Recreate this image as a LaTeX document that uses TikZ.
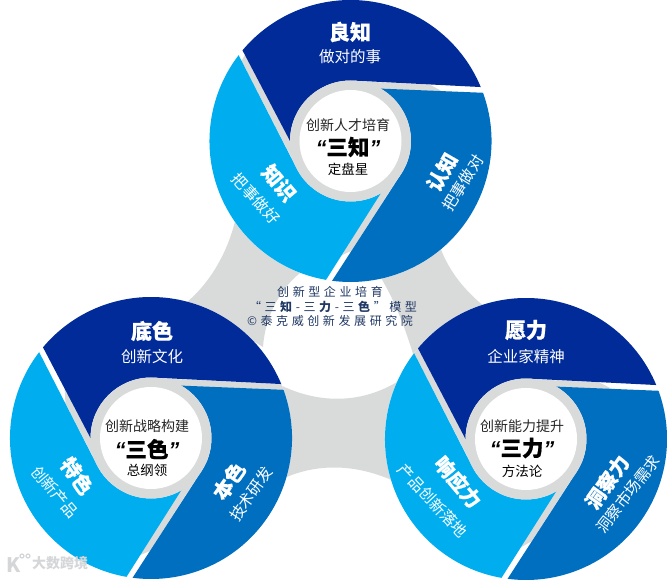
\documentclass[tikz,border=0pt]{standalone}
\usepackage{fontspec}
\setmainfont{Noto Sans CJK SC}
\newfontfamily\quotefont{Liberation Sans}
\usetikzlibrary{calc}
\definecolor{bladeDark}{HTML}{002B98}
\definecolor{bladeMid}{HTML}{006FBF}
\definecolor{bladeLight}{HTML}{00AEEF}
\definecolor{ringGray}{HTML}{D9DADA}
\definecolor{textNavy}{HTML}{1F3864}
\definecolor{hubText}{HTML}{262626}
\definecolor{markGray}{HTML}{D4D6D8}
\newcommand{\hubquote}[1]{{\quotefont\bfseries\itshape “}#1{\quotefont\bfseries\itshape ”}}
\newcommand{\px}[1]{\fontsize{#1}{#1}\selectfont}
% one wheel: #1 centre, #2 #3 #4 reach of the gray in the three gaps
\newcommand{\wheel}[4]{
  \begin{scope}[shift={#1}]
    \fill[white] (0,0) circle[radius=141];
    \foreach \ang/\reach in {0/#2,-120/#3,120/#4}{
      \fill[ringGray, rotate=\ang] (87:60) -- ($(87:60)!\reach!(22.5:141)$)
        -- ($(60:60)!\reach!(20:141)$) -- (60:60) -- cycle;
    }
    \foreach \ang/\col in {0/bladeDark,-120/bladeMid,120/bladeLight}{
      \fill[\col, rotate=\ang] (140:141) arc[start angle=140, end angle=22.5, radius=141]
        -- (87:60.5) arc[start angle=87, end angle=180, radius=60.5] -- cycle;
    }
    \fill[ringGray] (0,0) circle[radius=60.5];
    \fill[white] (0,0) circle[radius=51];
  \end{scope}
}
\tikzset{
  band/.style={fill=ringGray},
  titlelabel/.style={font=\px{21}\bfseries\addfontfeature{FakeBold=0.6}, text=white, inner sep=0pt},
  sidetitle/.style={font=\px{20}\bfseries\addfontfeature{FakeBold=0.6}, text=white, inner sep=0pt},
  sublabel/.style={font=\px{15.5}, text=white, inner sep=0pt},
  hubtop/.style={font=\px{14}, text=hubText, inner sep=0pt},
  hubmain/.style={font=\px{21.5}\bfseries\addfontfeature{FakeBold=0.6}, text=black, inner sep=0pt},
  hubbottom/.style={font=\px{13.5}, text=black, inner sep=0pt},
  centrelabel/.style={font=\px{12}\addfontfeature{LetterSpace=30}, text=textNavy, inner sep=0pt},
  marklabel/.style={font=\px{14}\bfseries, text=markGray, inner sep=0pt},
}
\begin{document}
\begin{tikzpicture}[x=1pt, y=1pt]
  \useasboundingbox (0,0) rectangle (667,579);

  % === Gray bands between the wheels ===
  \fill[band] (278,195) .. controls (318,175) and (360,175) .. (397,197)
    -- (396,97) .. controls (355,116) and (315,116) .. (280,99) -- cycle;
  \fill[band] (236,362) .. controls (229,330) and (212,298) .. (187,277)
    -- (263,232) .. controls (265,262) and (280,290) .. (300,306) -- cycle;
  \fill[band] (440,332) .. controls (447,313) and (460,292) .. (485,272)
    -- (414,222) .. controls (404,255) and (392,285) .. (376,309) -- cycle;

  % === Three wheels ===
  \wheel{(350.5,438)}{0.6}{0.72}{0.95}
  \wheel{(151,141)}{1}{0.75}{0.55}
  \wheel{(526,140)}{0.55}{0.65}{1}

  % === Top wheel labels ===
  \node[titlelabel] (liangzhi) at (350,547) {良知};
  \node[sublabel] (liangsub) at (350,522) {做对的事};
  \node[sidetitle, rotate=-50] (zhishi) at (279,396) {知识};
  \node[sublabel, rotate=-48] (zhisub) at (256,380) {把事做好};
  \node[sidetitle, rotate=60] (renzhi) at (442,407) {认知};
  \node[sublabel, rotate=58] (rensub) at (463,396) {把事做对};
  \node[hubtop] (hubzhitop) at (348,454) {创新人才培育};
  \node[hubmain] (hubzhi) at (348,432) {\hubquote{三知}};
  \node[hubbottom] (hubzhilow) at (348,410) {定盘星};

  % === Left wheel labels ===
  \node[titlelabel] (dise) at (152,248) {底色};
  \node[sublabel] (disesub) at (152,222) {创新文化};
  \node[sidetitle, rotate=-55] (tese) at (77,103) {特色};
  \node[sublabel, rotate=-50] (tesesub) at (55,87) {创新产品};
  \node[sidetitle, rotate=55] (bense) at (229,98) {本色};
  \node[sublabel, rotate=55] (bensesub) at (251,85) {技术研发};
  \node[hubtop] (hubsetop) at (147,153) {创新战略构建};
  \node[hubmain] (hubse) at (147,130) {\hubquote{三色}};
  \node[hubbottom] (hubselow) at (147,109) {总纲领};

  % === Right wheel labels ===
  \node[titlelabel] (yuanli) at (526,249) {愿力};
  \node[sublabel] (yuansub) at (526,222) {企业家精神};
  \node[sidetitle, rotate=-50] (xiangying) at (458,97) {响应力};
  \node[sublabel, rotate=-47] (xiangsub) at (433,78) {产品创新落地};
  \node[sidetitle, rotate=55] (dongcha) at (607,97) {洞察力};
  \node[sublabel, rotate=52] (dongsub) at (628,85) {洞察市场需求};
  \node[hubtop] (hublitop) at (522,153) {创新能力提升};
  \node[hubmain] (hubli) at (522,131) {\hubquote{三力}};
  \node[hubbottom] (hublilow) at (522,108) {方法论};

  % === Centre caption ===
  \node[centrelabel] (capone) at (330,287) {创新型企业培育};
  \node[centrelabel] (captwo) at (333,272) {“三\textbf{知}-三\textbf{力}-三\textbf{色}”模型};
  \node[centrelabel] (capthree) at (330,258) {©泰克威创新发展研究院};

  % === Watermark ===
  \node[marklabel] (markname) at (60,16) {大数跨境};
  \node[font=\px{20}\bfseries, text=markGray, inner sep=0pt] (markk) at (14,14) {K};
  \draw[markGray, line width=1.2pt] (22,23) circle[radius=2] (28,23) circle[radius=2];
\end{tikzpicture}
\end{document}
